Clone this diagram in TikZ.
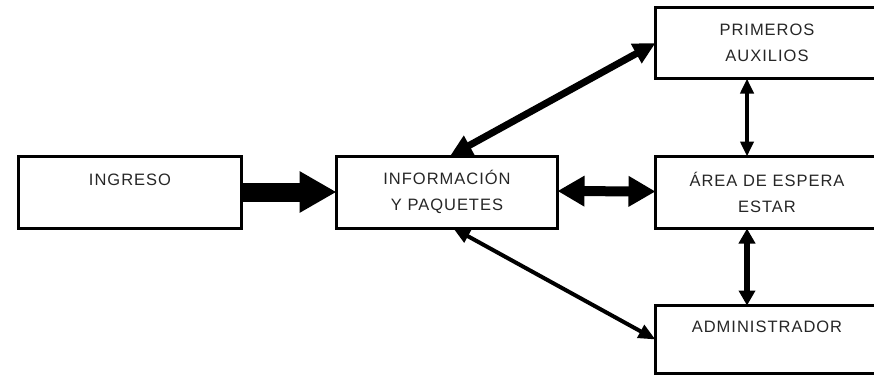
\documentclass[tikz,border=0pt]{standalone}
\usepackage{fontspec}
\setmainfont{Liberation Sans}[LetterSpace=6]
\usetikzlibrary{arrows.meta}
\begin{document}
\begin{tikzpicture}[x=1pt,y=-1pt,
  box/.style={draw=black,line width=3pt,rectangle,minimum width=223pt,minimum height=72pt,
    inner sep=0pt,outer sep=0pt,align=center,font=\fontsize{16.5pt}{25.5pt}\selectfont,text=black!85},
  conn/.style={draw=black,line cap=butt}]
\clip (0,0) rectangle (874,378);
\useasboundingbox (0,0) rectangle (874,378);
\node[box] (ingreso) at (130,192) {INGRESO\\[0pt]~};
\node[box,minimum width=221pt] (info) at (447,192) {INFORMACIÓN\\Y PAQUETES};
\node[box,minimum height=71pt] (primeros) at (767,43) {PRIMEROS\\AUXILIOS};
\node[box] (area) at (767,192.5) {ÁREA DE ESPERA\\ESTAR};
\node[box,minimum height=68pt] (admin) at (767,339.5) {ADMINISTRADOR\\[0pt]~};
% arrows
\draw[conn,line width=19pt,-{Triangle[length=37pt,width=39pt]}] (ingreso.east) -- (info.west);
\draw[conn,line width=10pt,{Triangle[length=27pt,width=29pt]}-{Triangle[length=27pt,width=29pt]}] ([yshift=1pt]info.east) -- ([yshift=1pt]area.west);
\draw[conn,line width=7pt,{Triangle[length=22pt,width=21pt]}-{Triangle[length=22pt,width=21pt]}] ([xshift=3pt]info.north) -- (primeros.west);
\draw[conn,line width=4pt,{Triangle[length=15pt,width=13pt]}-{Triangle[length=15pt,width=13pt]}] ([xshift=-20pt]primeros.south) -- ([xshift=-20pt]area.north);
\draw[conn,line width=6pt,{Triangle[length=15pt,width=16pt]}-{Triangle[length=15pt,width=16pt]}] ([xshift=-20pt]area.south) -- ([xshift=-20pt]admin.north);
\draw[conn,line width=4pt,{Triangle[length=17pt,width=14pt]}-{Triangle[length=17pt,width=14pt]}] ([xshift=6pt]info.south) -- (admin.west);
\end{tikzpicture}
\end{document}
